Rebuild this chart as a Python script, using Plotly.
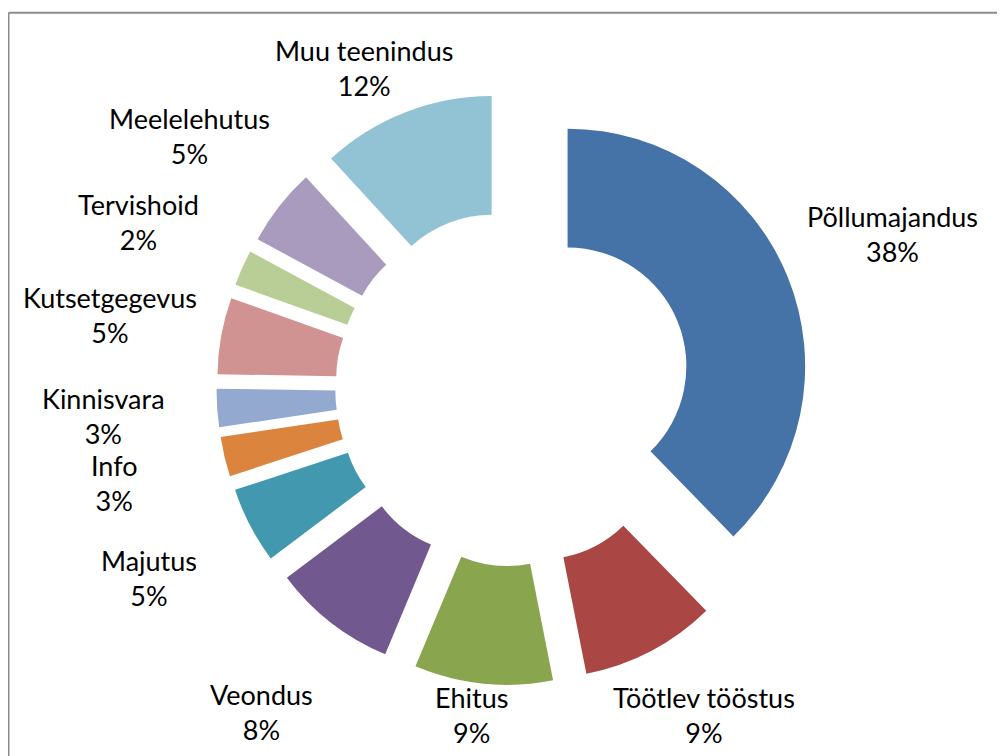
import math
import plotly.graph_objects as go

# tegevusalad ja osakaalud (%)
sektorid = ["Põllumajandus", "Töötlev tööstus", "Ehitus", "Veondus", "Majutus", "Info",
            "Kinnisvara", "Kutsetgegevus", "Tervishoid", "Meelelehutus", "Muu teenindus"]
osakaal = [37.7, 9.2, 9.4, 8.45, 5.2, 2.7, 2.6, 5.2, 2.44, 5.3, 11.81]
varvid = ["#4572A7", "#AA4643", "#89A54E", "#71588F", "#4198AF", "#DB843D",
          "#93A9CF", "#D19392", "#B9CD96", "#A99BBD", "#92C3D5"]

# lehe suurus (brauseri body-l on 8px veeris)
W, H = 997, 748
ml, mr, mt, mb = 13, 0, 84, 71
pw, ph = W - ml - mr, H - mt - mb
auk, nihe = 0.5, 0.248

fig = go.Figure()
fig.add_trace(go.Pie(
    labels=sektorid, values=osakaal, sort=False, direction="clockwise", rotation=0,
    hole=auk, pull=nihe, textinfo="none", automargin=False,
    marker=dict(colors=varvid, line=dict(width=0)),
    showlegend=False, hoverinfo="label+percent",
))

# sildid viilude kõrvale (nurk ja kaugus arvutatakse andmetest)
R = min(pw, ph) / (2 * (1 + nihe))
Rv = R * (1 + nihe)
kokku = sum(osakaal)
kum = 0
for nimi, v in zip(sektorid, osakaal):
    nurk = math.radians((kum + v / 2) / kokku * 360)
    kum += v
    pr = f"{round(v / kokku * 100)}%"
    hw = max(len(nimi), len(pr)) * 13.5 / 2
    rho = max(Rv + 15 + hw * abs(math.sin(nurk)) + 35 * abs(math.cos(nurk)), 410)
    x = 0.5 + rho * math.sin(nurk) / pw
    y = 0.5 + rho * math.cos(nurk) / ph
    y = min(max(y, 1 - (707 - mt) / ph), 1 - (60 - mt) / ph)
    fig.add_annotation(x=x, y=y, xref="paper", yref="paper", text=f"{nimi}<br>{pr}",
                       showarrow=False, xanchor="center", yanchor="middle", align="center",
                       font=dict(family="Lato", size=27, color="black"))

# raam ümber joonise
rx = (0.5 - ml) / pw
ry = 1 - (4.8 - mt) / ph
fig.add_shape(type="line", xref="paper", yref="paper", x0=rx, x1=rx, y0=-0.2, y1=ry,
              line=dict(color="#8C8C8C", width=2))
fig.add_shape(type="line", xref="paper", yref="paper", x0=rx, x1=1.05, y0=ry, y1=ry,
              line=dict(color="#8C8C8C", width=2))

fig.update_layout(width=W, height=H, margin=dict(l=ml, r=mr, t=mt, b=mb, autoexpand=False),
                  paper_bgcolor="white", plot_bgcolor="white",
                  font=dict(family="Lato", size=27, color="black"))

fig.write_html("out.html")
